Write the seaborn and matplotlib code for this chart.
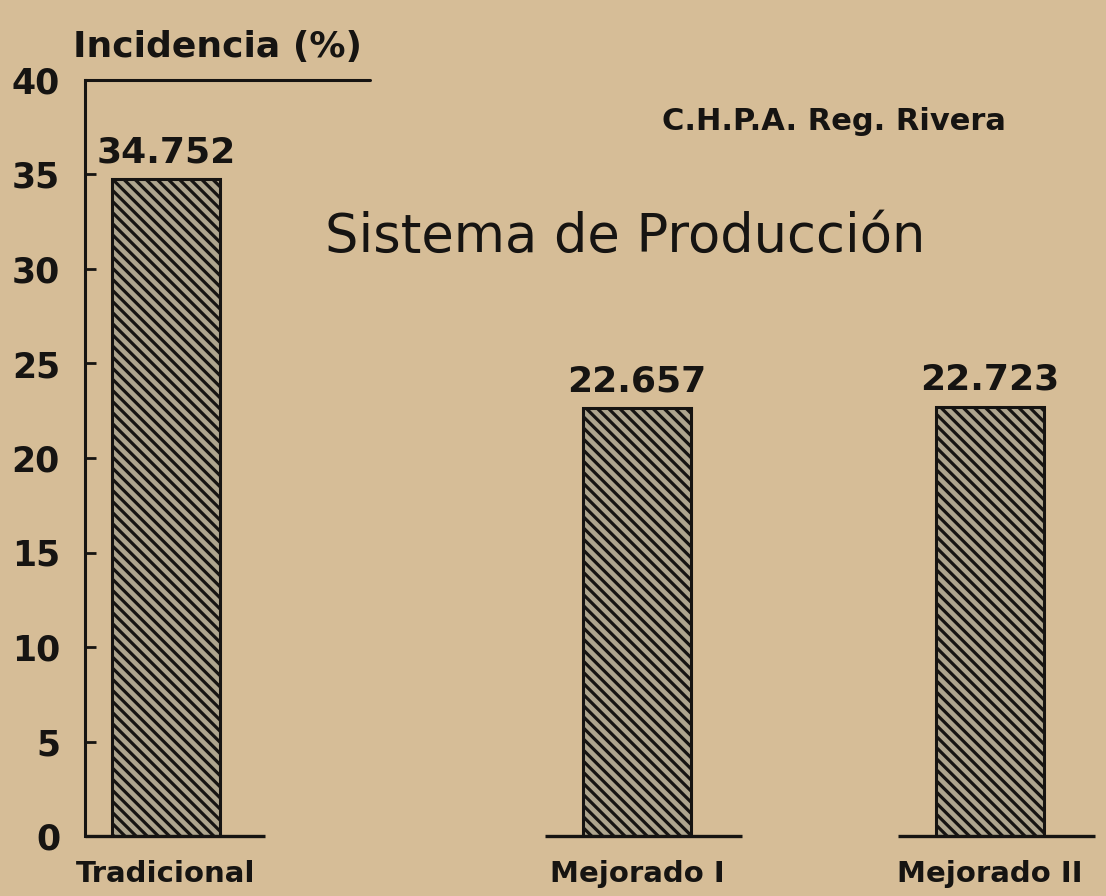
import matplotlib
matplotlib.use("Agg")
import matplotlib.pyplot as plt
import seaborn as sns
import pandas as pd

# ---- data ----
categories = ["Tradicional", "Mejorado I", "Mejorado II"]
incidencia = [34.752, 22.657, 22.723]
value_labels = ["34.752", "22.657", "22.723"]
y_ticks = [0, 5, 10, 15, 20, 25, 30, 35, 40]

# ---- layout (pixel-like x coordinates of the bar centres) ----
bar_centres = [166, 637, 990]

BG = "#d6bd97"
INK = "#161412"

sns.set_style("ticks")
plt.rcParams["font.family"] = ["DejaVu Sans"]
plt.rcParams["hatch.linewidth"] = 2.3
plt.rcParams["hatch.color"] = INK

df = pd.DataFrame({"pos": bar_centres, "incidencia": incidencia, "sistema": categories})

fig = plt.figure(figsize=(11.06, 8.96), dpi=100, facecolor=BG)
ax = fig.add_axes([85 / 1106, 60 / 896, (1106 - 85) / 1106, (836 - 80) / 896])
ax.set_facecolor(BG)

sns.barplot(data=df, x="pos", y="incidencia", native_scale=True, width=0.306,
            color="#b3a789", edgecolor=INK, linewidth=2.2, hatch="\\\\\\",
            errorbar=None, ax=ax)

ax.set_xlim(85, 1106)
ax.set_ylim(0, 40)

# value labels
ax.bar_label(ax.containers[0], labels=value_labels, padding=7,
             fontsize=26, fontweight="bold", color=INK)

# axes styling
for s in ["top", "right", "bottom"]:
    ax.spines[s].set_visible(False)
ax.spines["left"].set_linewidth(2.2)
ax.spines["left"].set_color(INK)

ax.set_yticks(y_ticks)
ax.set_yticklabels([str(t) for t in y_ticks])
ax.tick_params(axis="y", direction="in", length=8, width=2, colors=INK,
               labelsize=25, pad=18)
for lab in ax.get_yticklabels():
    lab.set_fontweight("bold")

ax.set_xticks(bar_centres)
ax.set_xticklabels(categories)
ax.tick_params(axis="x", length=0, labelsize=21, pad=17, colors=INK)
for lab in ax.get_xticklabels():
    lab.set_fontweight("bold")
ax.set_xlabel("")
ax.set_ylabel("")

# top line at 40 and baseline segments under each bar
ax.axhline(40, xmin=0, xmax=0.279, color=INK, lw=2.2, clip_on=False)
ax.hlines([0] * (len(bar_centres) - 1), [c - 92 for c in bar_centres[1:]],
          [c + 105 for c in bar_centres[1:]], color=INK, lw=2.4, clip_on=False)
ax.hlines([0], [85], [265], color=INK, lw=2.4, clip_on=False)

# texts
fig.text(73 / 1106, 1 - 57 / 896, "Incidencia (%)", fontsize=26,
         fontweight="bold", color=INK, ha="left", va="baseline")
fig.text(662 / 1106, 1 - 130 / 896, "C.H.P.A. Reg. Rivera", fontsize=22,
         fontweight="bold", color=INK, ha="left", va="baseline")
fig.text(325 / 1106, 1 - 252 / 896, "Sistema de Producción", fontsize=38,
         fontweight="medium", color=INK, ha="left", va="baseline")

fig.savefig("out.png", dpi=100, facecolor=BG)
